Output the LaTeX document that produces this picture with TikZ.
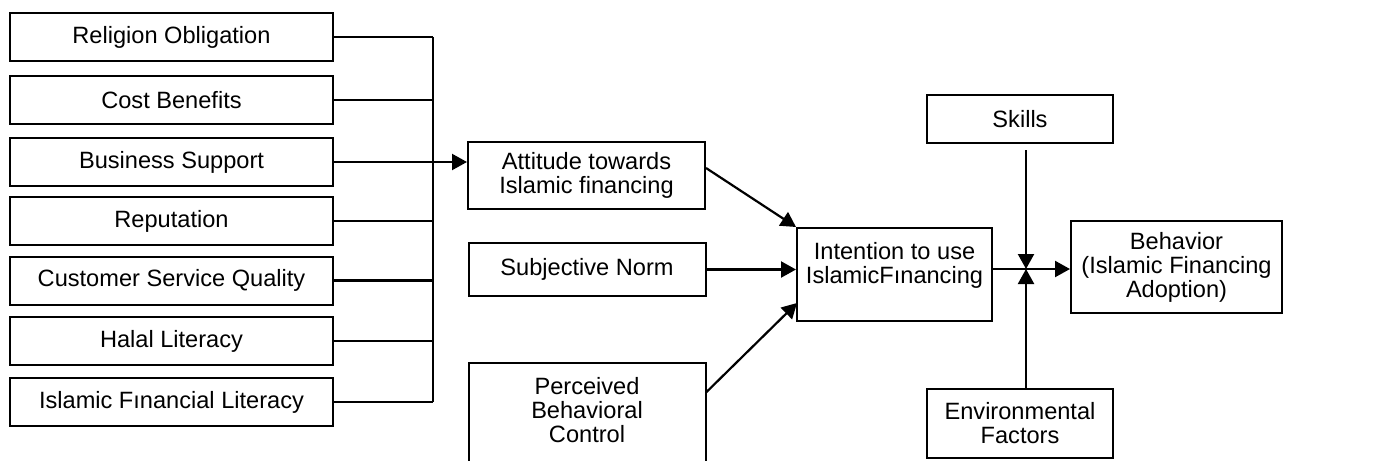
\documentclass[tikz,border=0pt]{standalone}
\usepackage{fontspec}
\setmainfont{Liberation Sans}
\usetikzlibrary{arrows.meta,calc}
\begin{document}
\begin{tikzpicture}[x=0.5pt,y=-0.5pt,
  box/.style={draw,line width=1pt,rectangle,inner sep=0pt,align=center,font=\fontsize{11.8}{12}\selectfont},
  lbox/.style={box,minimum width=161.5pt,minimum height=24pt},
  mbox/.style={box,minimum width=118.5pt},
  con/.style={line width=1.1pt},
  arr/.style={con,-{Triangle[length=7.5pt,width=8pt]}}]
\useasboundingbox (0,0) rectangle (1379,460);
\clip (0,0) rectangle (1379,460);
% left boxes
\node[lbox] (ro) at (171.5,37) {Religion Obligation};
\node[lbox] (cb) at (171.5,100) {Cost Benefits};
\node[lbox] (bs) at (171.5,162) {Business Support};
\node[lbox] (rep) at (171.5,221) {Reputation};
\node[lbox] (csq) at (171.5,280.5) {Customer Service Quality};
\node[lbox] (hl) at (171.5,341) {Halal Literacy};
\node[lbox] (ifl) at (171.5,402) {Islamic Fınancial Literacy};
\coordinate (jt) at (433,37);
\coordinate (jb) at (433,402);
% middle boxes
\node[mbox,minimum height=33.5pt] (att) at (586.5,175.5) {Attitude towards\\Islamic financing};
\node[mbox,minimum height=26.5pt] (sn) at (587,269.5) {Subjective Norm};
\node[mbox,minimum height=58.5pt,
  label={[font=\fontsize{11.8}{12}\selectfont,align=center,yshift=5.75pt]center:Perceived\\Behavioral\\Control}] (pbc) at (587,421.5) {};
\node[box,minimum width=97.5pt,minimum height=46.5pt,
  label={[font=\fontsize{11.8}{12}\selectfont,align=center,yshift=4.75pt]center:Intention to use\\IslamicFınancing}] (int) at (894.5,274.5) {};
% right boxes
\node[box,minimum width=93pt,minimum height=24pt] (sk) at (1020,119) {Skills};
\node[box,minimum width=93pt,minimum height=34.5pt] (env) at (1020,423.5) {Environmental\\Factors};
\node[box,minimum width=105.5pt,minimum height=46pt] (beh) at (1176.5,267) {Behavior\\(Islamic Financing\\Adoption)};
\coordinate (j) at (1026,269);
% left connectors
\draw[con] (jt) -- (jb);
\foreach \n in {ro,cb,rep,csq,hl,ifl} \draw[con] (\n.east) -- (\n.east -| jt);
\draw[arr] (bs.east) -- (att.west |- bs.east);
% to intention
\draw[arr] ([yshift=3.75pt]att.east) -- (int.north west);
\draw[arr] (sn.east) -- (int.west |- sn.east);
\draw[arr] (pbc.east |- 705,392) -- (797,303);
% to behavior
\draw[arr] (int.east |- j) -- (beh.west |- j);
\draw[arr] ([yshift=-3pt]sk.south -| j) -- (j);
\draw[arr] (env.north -| j) -- (j);
\end{tikzpicture}
\end{document}
